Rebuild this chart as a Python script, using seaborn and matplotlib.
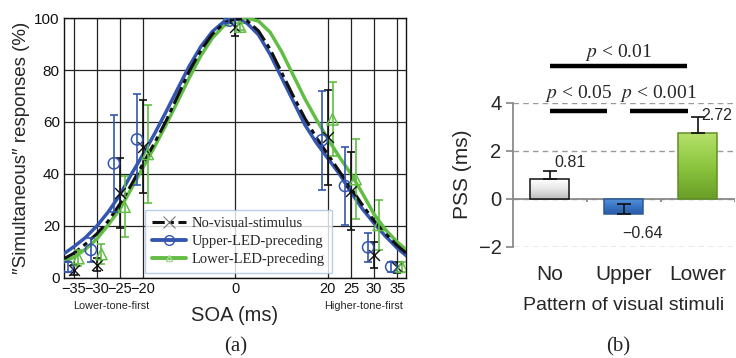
import numpy as np
import pandas as pd
import matplotlib
matplotlib.use("Agg")
import matplotlib.pyplot as plt
from matplotlib.lines import Line2D
from matplotlib.colors import LinearSegmentedColormap
import seaborn as sns

# ---------------- data: panel (a) ----------------
soa_ticks = [-35, -30, -25, -20, 0, 20, 25, 30, 35]
curve_x = [-37, -35, -32.5, -30, -27.5, -25, -22.5, -20, -17.5, -15, -12.5, -10, -7.5, -5, -2.5,
           0, 2.5, 5, 7.5, 10, 12.5, 15, 17.5, 20, 22.5, 25, 27.5, 30, 32.5, 35, 37]
curve_no = [7.5, 9.5, 13, 17, 22, 28.5, 36, 44, 52, 60.5, 70, 79.5, 87.5, 93.8, 98,
            99.8, 99, 95, 88, 79, 70, 61.5, 54, 47.5, 41, 34.5, 28, 22, 17, 12.5, 9.5]
curve_upper = [9.5, 12, 15.5, 20, 25.5, 32, 40, 47.5, 55.5, 64, 72.8, 81.5, 89, 94.8, 98.6,
               99.8, 98, 93.5, 86, 77, 68, 59, 52, 46, 40, 33, 26.5, 21, 16, 11.5, 8.5]
curve_lower = [6.3, 8, 11, 15, 20.5, 26.5, 34.5, 42.5, 50.5, 59, 68, 77, 85.5, 92.3, 97,
               99.4, 100, 98.8, 94.5, 87, 78, 69, 61, 53.5, 46.5, 40, 32.5, 24.5, 18.5, 13.8, 10.8]

pts_x = [-35, -30, -25, -20, 0, 20, 25, 30, 35]
pts_no = [3, 5, 32.6, 50.5, 96.4, 54.1, 33.6, 9, 4.1]
err_no = [2, 2.5, 13.5, 18, 3.5, 18.4, 15, 5, 2]
pts_upper = [4.3, 10.8, 44.1, 53.3, 99.0, 53, 35.4, 11.8, 4.3]
err_upper = [2, 4.5, 18.7, 17.5, 1, 19, 15, 5.5, 2]
pts_lower = [7.6, 9.2, 27.4, 47.7, 96.7, 61, 38, 20.4, 4.3]
err_lower = [3, 3.7, 11.7, 18.8, 1.5, 14.2, 15.5, 9.5, 2]

series_names = ["No-visual-stimulus", "Upper-LED-preceding", "Lower-LED-preceding"]

# ---------------- data: panel (b) ----------------
patterns = ["No", "Upper", "Lower"]
pss = [0.81, -0.64, 2.72]
pss_err = [0.36, 0.40, 0.70]
pss_labels = ["0.81", "\u22120.64", "2.72"]
sig_labels = ["$p$ < 0.01", "$p$ < 0.05", "$p$ < 0.001"]

# ---------------- style ----------------
sns.set_theme(style="white")
plt.rcParams["font.family"] = ["Liberation Sans", "DejaVu Sans"]
plt.rcParams["mathtext.fontset"] = "stix"
plt.rcParams["axes.unicode_minus"] = True
SERIF = ["Liberation Serif", "DejaVu Serif"]

C_NO = "#111111"
C_UP = "#3556b0"
C_LO = "#62bd45"

fig = plt.figure(figsize=(7.36, 3.58), dpi=100)
axA = fig.add_axes([0.087, 0.2235, 0.464, 0.7262])
axB = fig.add_axes([0.6966, 0.3109, 0.3014, 0.4022])

# ---------- panel (a) ----------
curves = pd.DataFrame({
    "SOA": curve_x * 3,
    "resp": curve_no + curve_upper + curve_lower,
    "series": [series_names[0]] * len(curve_x) + [series_names[1]] * len(curve_x)
              + [series_names[2]] * len(curve_x),
})
styles = {
    series_names[0]: dict(color=C_NO, ls=(0, (6, 1.5, 1.5, 1.5)), lw=2.2, z=5),
    series_names[1]: dict(color=C_UP, ls="-", lw=2.5, z=4),
    series_names[2]: dict(color=C_LO, ls="-", lw=2.5, z=3),
}
for name in series_names:
    sub = curves[curves["series"] == name]
    st = styles[name]
    sns.lineplot(data=sub, x="SOA", y="resp", ax=axA, color=st["color"],
                 linestyle=st["ls"], linewidth=st["lw"], zorder=st["z"], legend=False)

offsets = [0.0, -1.3, 1.0]
pt_sets = [(pts_no, err_no, C_NO, "x"), (pts_upper, err_upper, C_UP, "o"),
           (pts_lower, err_lower, C_LO, "^")]
for (vals, errs, col, mk), off in zip(pt_sets, offsets):
    xs = np.array(pts_x, dtype=float) + off
    axA.errorbar(xs, vals, yerr=errs, fmt="none", ecolor=col, elinewidth=1.2,
                 capsize=3, capthick=1.2, zorder=6)
    if mk == "x":
        axA.scatter(xs, vals, marker="x", s=60, color=col, linewidths=1.0, zorder=7)
    else:
        axA.scatter(xs, vals, marker=mk, s=65, facecolors="none", edgecolors=col,
                    linewidths=1.1, zorder=7)

axA.set_xlim(-37.1, 36.8)
axA.set_ylim(0, 100)
axA.set_xticks(soa_ticks)
axA.set_xticklabels([("\u2212%d" % -t) if t < 0 else str(t) for t in soa_ticks], fontsize=10.5)
axA.set_yticks([0, 20, 40, 60, 80, 100])
axA.set_yticklabels(["0", "20", "40", "60", "80", "100"], fontsize=11)
axA.tick_params(axis="both", length=0, pad=3, colors="#111111")
axA.grid(True, color="#222222", linewidth=0.9)
axA.set_axisbelow(True)
for sp in axA.spines.values():
    sp.set_color("#111111")
    sp.set_linewidth(1.0)
axA.set_xlabel("SOA (ms)", fontsize=14.5, labelpad=7)
axA.set_ylabel("\u2033Simultaneous\u2033 responses (%)", fontsize=13.5, labelpad=3)

handles = [
    Line2D([], [], color=C_NO, ls=(0, (4, 1.5, 1.5, 1.5)), lw=2.2, marker="x", ms=9,
           mec="#777777", mew=0.8),
    Line2D([], [], color=C_UP, ls="-", lw=2.8, marker="o", ms=7, mfc="none", mec=C_UP),
    Line2D([], [], color=C_LO, ls="-", lw=2.8, marker="^", ms=5, mfc="none", mec="#a8d890"),
]
leg = axA.legend(handles, series_names, loc="lower left", bbox_to_anchor=(0.237, 0.019),
                 borderaxespad=0, frameon=True, fancybox=False, handlelength=2.3,
                 handletextpad=0.4, labelspacing=0.32, borderpad=0.5,
                 prop={"family": SERIF, "size": 10.5})
leg.get_frame().set_edgecolor("#a9c2e3")
leg.get_frame().set_linewidth(1.0)
leg.set_zorder(10)

fig.text(0.151, 0.146, "Lower\u2010tone\u2010first", fontsize=7.8, ha="center", va="center")
fig.text(0.4946, 0.146, "Higher\u2010tone\u2010first", fontsize=7.8, ha="center", va="center")

# ---------- panel (b) ----------
dfB = pd.DataFrame({"pattern": patterns, "pss": pss})
sns.barplot(data=dfB, x="pattern", y="pss", hue="pattern", ax=axB, width=0.52,
            palette=["#f2f2f2", "#3b78c9", "#8cc63f"], legend=False, zorder=3)
edge_cols = ["#111111", "#2a5a9a", "#5f8f25"]
grad_cols = [("#ffffff", "#e6e6e6", "#bdbdbd"), ("#5b95dc", "#3a76c6", "#2a5da8"),
             ("#b5e06a", "#8cc63f", "#6a9e28")]
for patch, ec, gc in zip(axB.patches, edge_cols, grad_cols):
    patch.set_edgecolor(ec)
    patch.set_linewidth(1.1)
    bb = patch.get_bbox()
    cmap = LinearSegmentedColormap.from_list("g", list(gc))
    grad = np.linspace(0, 1, 64).reshape(-1, 1)
    im = axB.imshow(grad, cmap=cmap, aspect="auto", origin="upper",
                    extent=[bb.x0, bb.x1, min(bb.y0, bb.y1), max(bb.y0, bb.y1)],
                    zorder=3.1)
    im.set_clip_path(patch)
    patch.set_facecolor("none")
    patch.set_zorder(3.2)

xpos = np.arange(len(patterns))
up_err = np.array(pss_err)
axB.errorbar(xpos, pss, yerr=[np.zeros_like(up_err), up_err], fmt="none", ecolor="#111111",
             elinewidth=1.2, capsize=5, capthick=1.2, zorder=4)

axB.set_xlim(-0.5, len(patterns) - 0.5)
axB.set_ylim(-2, 4)
axB.set_yticks([-2, 0, 2, 4])
axB.set_yticklabels(["\u22122", "0", "2", "4"], fontsize=14.5)
axB.yaxis.grid(True, linestyle=(0, (4, 3)), color="#9a9a9a", linewidth=1.0)
axB.xaxis.grid(False)
axB.set_axisbelow(True)
axB.axhline(0, color="#8a8a8a", linewidth=1.3, zorder=2)
axB.vlines(xpos + 0.5, -0.12, 0, color="#8a8a8a", linewidth=1.3, zorder=2)
for s in ["top", "right", "bottom"]:
    axB.spines[s].set_visible(False)
axB.spines["left"].set_color("#8a8a8a")
axB.spines["left"].set_linewidth(1.3)
axB.tick_params(axis="y", length=5, color="#8a8a8a", pad=3, left=True)
axB.tick_params(axis="x", length=0, pad=13, labelsize=15)
axB.set_xlabel("Pattern of visual stimuli", fontsize=14)
axB.xaxis.set_label_coords(0.5, -0.35)
axB.set_ylabel("PSS (ms)", fontsize=15, labelpad=5)

lab_off = [(0.275, 1.52), (1.26, -1.43), (2.26, 3.45)]
for (tx, ty), s in zip(lab_off, pss_labels):
    axB.text(tx, ty, s, fontsize=11.5, ha="center", va="center", zorder=5)

sig_lines = [(0.0, 1.86, 5.53), (0.0, 0.78, 3.65), (1.08, 1.87, 3.65)]
sig_text = [(0.93, 6.08), (0.39, 4.39), (1.47, 4.39)]
for (x0, x1, yy), (tx, ty), s in zip(sig_lines, sig_text, sig_labels):
    axB.plot([x0, x1], [yy, yy], color="black", linewidth=3.2, clip_on=False,
             solid_capstyle="butt", zorder=5)
    axB.text(tx, ty, s, fontsize=14, ha="center", va="center", clip_on=False, family=SERIF)

fig.text(0.3207, 0.031, "(a)", fontsize=15, ha="center", va="center", family=SERIF)
fig.text(0.8397, 0.031, "(b)", fontsize=15, ha="center", va="center", family=SERIF)

fig.savefig("out.png", dpi=100)
